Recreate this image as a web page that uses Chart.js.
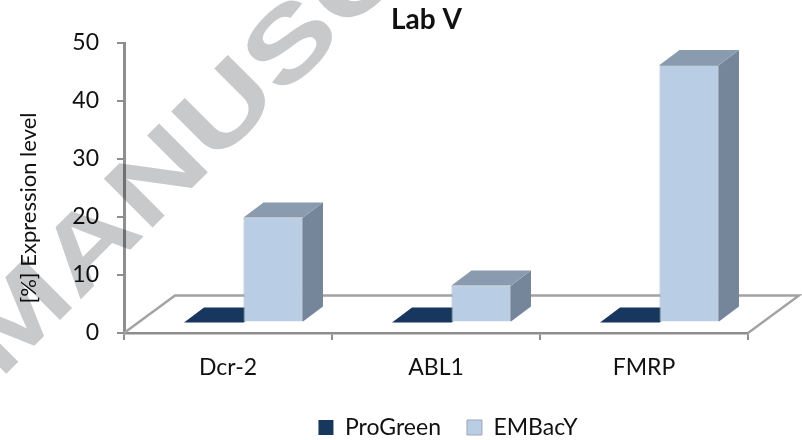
<!DOCTYPE html>
<html>
<head>
<meta charset="utf-8">
<title>Lab V</title>
<style>
html, body { margin: 0; padding: 0; background: #fff; }
#wrap { width: 802px; height: 440px; }
</style>
</head>
<body>
<div id="wrap"><canvas id="labChart" width="802" height="440"></canvas></div>
<script src="https://cdn.jsdelivr.net/npm/chart.js@4/dist/chart.umd.min.js"></script>
<script>
var categories = ['Dcr-2', 'ABL1', 'FMRP'];
var proGreen = [0, 0, 0];
var embacy = [18.1, 6.4, 44.4];
var yTicks = [0, 10, 20, 30, 40, 50];

var fontName = 'Lato, Carlito, Calibri, sans-serif';
var axisGrey = '#8e8e8e';

// faux 3d: depth of the bars and of the floor, in pixels
var barDepth = { x: 20, y: -15 };
var floorDepth = { x: 51, y: -37.5 };
var barShift = { x: 15.5, y: -10.5 };

var faceColors = [
   { top: '#17375e', side: '#17375e' },
   { top: '#8a9bb0', side: '#76869a' }
];

function poly(ctx, pts, fill) {
   ctx.beginPath();
   ctx.moveTo(pts[0][0], pts[0][1]);
   for (var i = 1; i < pts.length; i++) {
      ctx.lineTo(pts[i][0], pts[i][1]);
   }
   ctx.closePath();
   ctx.fillStyle = fill;
   ctx.fill();
}

var fauxThreeD = {
   id: 'fauxThreeD',
   afterLayout: function (chart) {
      var t = chart.titleBlock;
      var dx = 426.5 - (t.left + t.right) / 2;
      t.left += dx;
      t.right += dx;

      var l = chart.legend;
      var lx = 448 - (l.left + l.right) / 2;
      l.left += lx;
      l.right += lx;
      l.top += 9;
      l.bottom += 9;
   },
   beforeDatasetsDraw: function (chart) {
      var ctx = chart.ctx;
      var a = chart.chartArea;
      ctx.save();
      ctx.strokeStyle = '#a3a3a3';
      ctx.lineWidth = 2.5;
      ctx.beginPath();
      ctx.moveTo(a.left, a.bottom);
      ctx.lineTo(a.left + floorDepth.x, a.bottom + floorDepth.y);
      ctx.lineTo(a.right + floorDepth.x, a.bottom + floorDepth.y);
      ctx.lineTo(a.right, a.bottom);
      ctx.stroke();

      // side and top faces, series by series, the library adds the fronts after
      ctx.translate(barShift.x, barShift.y);
      faceColors.forEach(function (colors, index) {
         chart.getDatasetMeta(index).data.forEach(function (el) {
            var l = el.x - el.width / 2;
            var r = el.x + el.width / 2;
            var t = el.y;
            var b = el.base;
            var dx = barDepth.x;
            var dy = barDepth.y;
            poly(ctx, [[r, t], [r + dx, t + dy], [r + dx, b + dy], [r, b]], colors.side);
            poly(ctx, [[l, t], [l + dx, t + dy], [r + dx, t + dy], [r, t]], colors.top);
         });
      });
      ctx.restore();
   },
   beforeDatasetDraw: function (chart) {
      chart.ctx.save();
      chart.ctx.translate(barShift.x, barShift.y);
   },
   afterDatasetDraw: function (chart) {
      chart.ctx.restore();
   },
   afterDraw: function (chart) {
      var ctx = chart.ctx;
      // y axis title sits off the axis centre in the original
      ctx.save();
      ctx.translate(29, 208);
      ctx.rotate(-Math.PI / 2);
      ctx.font = '22px ' + fontName;
      ctx.fillStyle = '#111';
      ctx.textAlign = 'center';
      ctx.textBaseline = 'middle';
      ctx.fillText('[%] Expression level', 0, 0);
      ctx.restore();

      // watermark, letters are wider than tall in the original
      ctx.save();
      ctx.globalCompositeOperation = 'multiply';
      ctx.translate(0, 380);
      ctx.rotate(-45 * Math.PI / 180);
      ctx.scale(1.33, 1);
      ctx.font = 'bold 100px "Liberation Sans", Arial, sans-serif';
      ctx.fillStyle = '#c8c9cb';
      ctx.textAlign = 'left';
      ctx.textBaseline = 'alphabetic';
      ctx.fillText('MANUSCRIPT', 0, 0);
      ctx.restore();
   }
};

new Chart(document.getElementById('labChart'), {
   type: 'bar',
   data: {
      labels: categories,
      datasets: [
         { label: 'ProGreen', data: proGreen, backgroundColor: '#17375e', borderWidth: 0, clip: false },
         { label: 'EMBacY', data: embacy, backgroundColor: '#b9cde5', borderColor: '#9ea8b5', borderWidth: 1, clip: false }
      ]
   },
   options: {
      responsive: false,
      animation: false,
      layout: { autoPadding: false, padding: { left: 0, right: 54, top: 0, bottom: 0 } },
      datasets: { bar: { categoryPercentage: 0.572, barPercentage: 1 } },
      plugins: {
         tooltip: { enabled: false },
         title: {
            display: true,
            text: 'Lab V',
            color: '#111',
            font: { family: fontName, size: 28, weight: 'bold' },
            padding: { top: 3, bottom: 6.4 }
         },
         legend: {
            position: 'bottom',
            labels: {
               color: '#111',
               font: { family: fontName, size: 23 },
               boxWidth: 15,
               boxHeight: 15,
               padding: 26
            }
         }
      },
      scales: {
         x: {
            border: { color: axisGrey, width: 2.5 },
            grid: { offset: true, drawOnChartArea: false, color: axisGrey, lineWidth: 2, tickLength: 7 },
            ticks: { color: '#111', padding: 14, maxRotation: 0, font: { family: fontName, size: 23 } },
            afterFit: function (s) { s.height = 48; }
         },
         y: {
            min: 0,
            max: 50,
            border: { color: axisGrey, width: 3 },
            grid: { drawOnChartArea: false, color: axisGrey, lineWidth: 2, tickLength: 7 },
            afterBuildTicks: function (s) { s.ticks = yTicks.map(function (v) { return { value: v }; }); },
            ticks: { color: '#111', padding: 18, font: { family: fontName, size: 23 } },
            afterFit: function (s) { s.width = 124; }
         }
      }
   },
   plugins: [fauxThreeD]
});
</script>
</body>
</html>
